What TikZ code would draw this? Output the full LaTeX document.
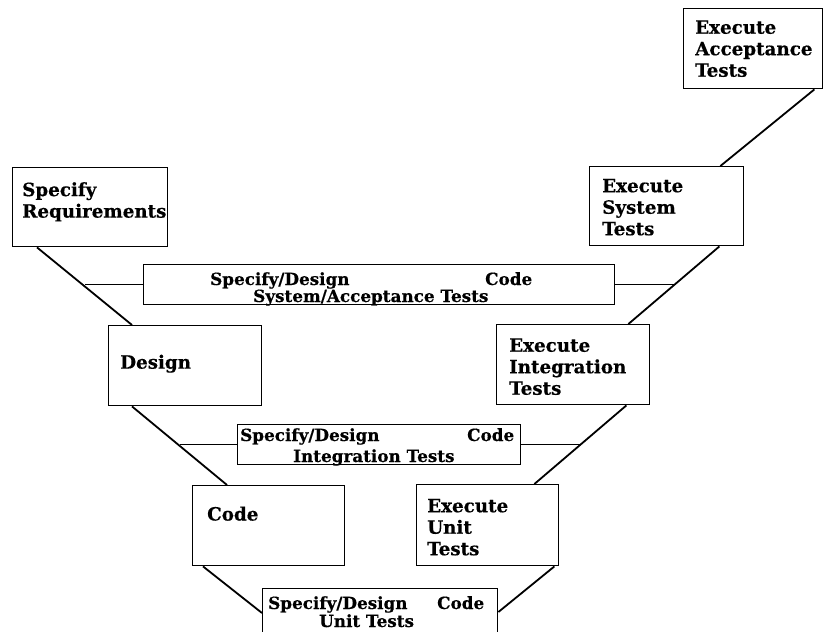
\documentclass[tikz,border=0pt]{standalone}
\usepackage{fontspec}
\setmainfont{DejaVu Serif}[BoldFeatures={FakeBold=0.4}]
\usetikzlibrary{calc}
\begin{document}
\begin{tikzpicture}[x=1pt,y=-1pt,
  box/.style={draw, line width=1.4pt, inner sep=0pt, anchor=north west},
  big/.style={font=\fontsize{18.3}{21.5}\selectfont\bfseries, align=left, inner sep=0pt},
  small/.style={font=\fontsize{16.8}{18}\selectfont\bfseries, inner sep=0pt, anchor=base west},
  diag/.style={line width=1.8pt},
  tie/.style={line width=1pt}]
\useasboundingbox (0,0) rectangle (825,632);
% boxes
\node[box, minimum width=155pt, minimum height=79pt] (req) at (12,167) {};
\node[box, minimum width=471pt, minimum height=40pt] (sysspec) at (143,264) {};
\node[box, minimum width=153pt, minimum height=80pt] (design) at (108,325) {};
\node[box, minimum width=283pt, minimum height=40pt] (intspec) at (237,424) {};
\node[box, minimum width=152pt, minimum height=80pt] (code) at (192,485) {};
\node[box, minimum width=235pt, minimum height=62pt] (unitspec) at (262,588) {};
\node[box, minimum width=139pt, minimum height=80pt] (acc) at (683,8) {};
\node[box, minimum width=154pt, minimum height=79pt] (systest) at (589,166) {};
\node[box, minimum width=153pt, minimum height=80pt] (inttest) at (496,324) {};
\node[box, minimum width=142pt, minimum height=81pt] (unittest) at (416,484) {};
% big labels
\node[big, anchor=north west] (treq) at ($(req.north west)+(10,15)$) {Specify\\Requirements};
\node[big, anchor=west] (tdesign) at ($(design.west)+(12,-2)$) {Design};
\node[big, anchor=west] (tcode) at ($(code.west)+(15,-12)$) {Code};
\node[big, anchor=west] (tacc) at ($(acc.west)+(12,0)$) {Execute\\Acceptance\\Tests};
\node[big, anchor=west] (tsys) at ($(systest.west)+(13,1)$) {Execute\\System\\Tests};
\node[big, anchor=west] (tint) at ($(inttest.west)+(13,2)$) {Execute\\Integration\\Tests};
\node[big, anchor=west] (tunit) at ($(unittest.west)+(11,2)$) {Execute\\Unit\\Tests};
% small labels
\node[small] (s1a) at (210,285) {Specify/Design};
\node[small] (s1b) at (485,285) {Code};
\node[small] (s1c) at (253,302) {System/Acceptance Tests};
\node[small] (s2a) at (240,441) {Specify/Design};
\node[small] (s2b) at (467,441) {Code};
\node[small] (s2c) at (293,462) {Integration Tests};
\node[small] (s3a) at (268,609) {Specify/Design};
\node[small] (s3b) at (437,609) {Code};
\node[small] (s3c) at (319,627) {Unit Tests};
% diagonal connectors
\coordinate (d1a) at ($(req.south west)+(25,0)$);
\coordinate (d1b) at ($(design.north west)+(24,0)$);
\coordinate (d2a) at ($(design.south west)+(24,0)$);
\coordinate (d2b) at ($(code.north west)+(35,0)$);
\coordinate (d3a) at ($(code.south west)+(11,0)$);
\coordinate (d3b) at ($(unitspec.north west)+(0,25)$);
\coordinate (e1a) at ($(acc.south east)+(-9,0)$);
\coordinate (e1b) at ($(systest.north east)+(-24,0)$);
\coordinate (e2a) at ($(systest.south east)+(-25,0)$);
\coordinate (e2b) at ($(inttest.north east)+(-22,0)$);
\coordinate (e3a) at ($(inttest.south east)+(-24,0)$);
\coordinate (e3b) at ($(unittest.north east)+(-25,0)$);
\coordinate (e4a) at ($(unittest.south east)+(-5,0)$);
\coordinate (e4b) at ($(unitspec.north east)+(0,24)$);
\draw[diag] (d1a) -- (d1b);
\draw[diag] (d2a) -- (d2b);
\draw[diag] (d3a) -- (d3b);
\draw[diag] (e1a) -- (e1b);
\draw[diag] (e2a) -- (e2b);
\draw[diag] (e3a) -- (e3b);
\draw[diag] (e4a) -- (e4b);
% horizontal ties
\draw[tie] (sysspec.west) -- (sysspec.west -| {$(d1a)!0.5!(d1b)$});
\draw[tie] (sysspec.east) -- (sysspec.east -| {$(e2a)!0.5!(e2b)$});
\draw[tie] (intspec.west) -- (intspec.west -| {$(d2a)!0.5!(d2b)$});
\draw[tie] (intspec.east) -- (intspec.east -| {$(e3a)!0.5!(e3b)$});
\end{tikzpicture}
\end{document}
